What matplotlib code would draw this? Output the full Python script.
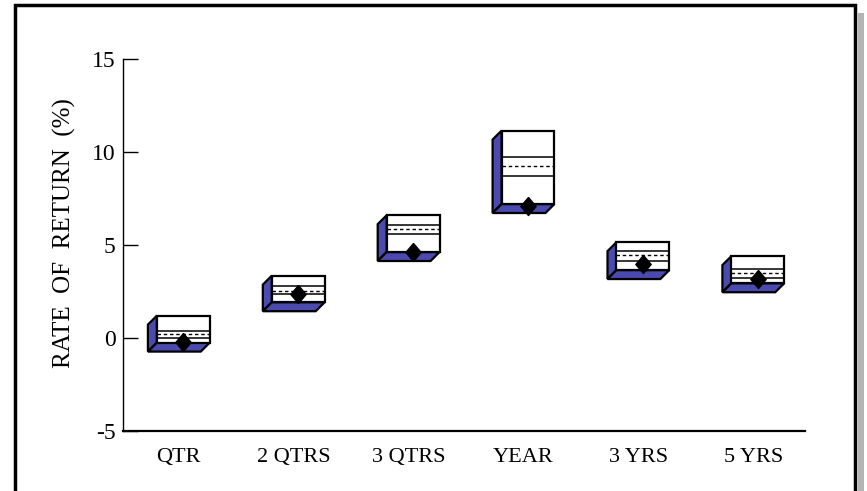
import matplotlib.pyplot as plt
from matplotlib.patches import Rectangle, Polygon
import numpy as np

plt.rcParams['font.family'] = ['Liberation Serif', 'DejaVu Serif']

# percentile boxes of the comparison universe and the portfolio return (%)
periods = ['QTR', '2 QTRS', '3 QTRS', 'YEAR', '3 YRS', '5 YRS']
pct_top = [1.2, 3.35, 6.6, 11.15, 5.15, 4.4]
pct_upper = [0.38, 2.78, 6.1, 9.75, 4.67, 3.7]
pct_median = [0.2, 2.54, 5.84, 9.26, 4.44, 3.47]
pct_lower = [0.02, 2.34, 5.59, 8.73, 4.13, 3.2]
pct_bottom = [-0.25, 1.92, 4.62, 7.2, 3.65, 2.94]
portfolio = [-0.22, 2.34, 4.63, 7.1, 4.0, 3.18]

side_col = '#4B4BAF'
box_w = 0.46      # front face width (category units)
dep_x = 0.078     # 3d depth, category units
dep_y = 0.48      # 3d depth, value units

fig = plt.figure(figsize=(8.67, 4.91), dpi=100)
fig.patch.set_facecolor('white')
ax = fig.add_axes([0.1413, 0.1222, 0.7872, 0.7576])

for i in range(len(periods)):
    x0 = i - box_w / 2 + dep_x / 2
    x1 = x0 + box_w
    lo, hi = pct_bottom[i], pct_top[i]
    # left side panel
    ax.add_patch(Polygon([(x0, lo), (x0, hi), (x0 - dep_x, hi - dep_y), (x0 - dep_x, lo - dep_y)],
                         closed=True, facecolor=side_col, edgecolor='black', lw=1.6, zorder=2))
    # bottom panel
    ax.add_patch(Polygon([(x0, lo), (x1, lo), (x1 - dep_x, lo - dep_y), (x0 - dep_x, lo - dep_y)],
                         closed=True, facecolor=side_col, edgecolor='black', lw=1.6, zorder=2))
    # front face
    ax.add_patch(Rectangle((x0, lo), box_w, hi - lo, facecolor='white',
                           edgecolor='black', lw=1.6, zorder=3))
    ax.plot([x0, x1], [pct_upper[i]] * 2, color='black', lw=1.1, zorder=4)
    ax.plot([x0, x1], [pct_lower[i]] * 2, color='black', lw=1.1, zorder=4)
    ax.plot([x0, x1], [pct_median[i]] * 2, color='black', lw=1.0, ls=(0, (2.5, 2)), zorder=4)
    ax.plot(x0 + box_w / 2, portfolio[i], marker=[(0, 1), (0.85, 0), (0, -1), (-0.85, 0), (0, 1)],
            ms=13, color='black', mec='black', zorder=5)

ax.set_xlim(-0.49, 5.45)
ax.set_ylim(-5, 15)
ax.set_yticks([-5, 0, 5, 10, 15])
ax.set_yticklabels(['-5', '0', '5', '10', '15'])
ax.set_xticks(np.arange(len(periods)))
ax.set_xticklabels(periods)
ax.tick_params(axis='y', direction='in', length=11, width=1, labelsize=17, pad=5)
ax.tick_params(axis='x', length=0, labelsize=16, pad=12)
ax.spines['top'].set_visible(False)
ax.spines['right'].set_visible(False)
ax.spines['left'].set_linewidth(1.0)
ax.spines['bottom'].set_linewidth(1.6)

fig.text(64 / 867, 1 - 233 / 491, 'RATE  OF  RETURN  (%)', rotation=90,
         ha='center', va='center', fontsize=18)

# outer frame with drop shadow
fig.patches.append(Rectangle((858 / 867, -0.1), 6 / 867, 1.1 - 13 / 491, transform=fig.transFigure,
                             facecolor='#b4b4b4', edgecolor='none', zorder=0))
fig.patches.append(Rectangle((15 / 867, -0.1), 840 / 867, 1.1 - 5 / 491, transform=fig.transFigure,
                             facecolor='none', edgecolor='black', lw=2.5, zorder=1))

fig.savefig('out.png', dpi=100, facecolor='white')
